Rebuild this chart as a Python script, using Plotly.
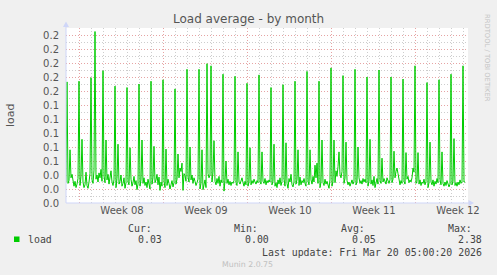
import plotly.graph_objects as go
import pandas as pd

# ---------------- data ----------------
start_time = "2026-02-14 22:00"   # first 2-hour sample
sample_step = "2h"

load_values = [
    0.030,
    # Feb 15
    0.173, 0.028, 0.032, 0.076, 0.036, 0.041, 0.029, 0.024, 0.031, 0.022, 0.027, 0.035,
    # Feb 16
    0.174, 0.025, 0.038, 0.091, 0.030, 0.022, 0.026, 0.044, 0.025, 0.021, 0.030, 0.042,
    # Feb 17
    0.179, 0.033, 0.028, 0.047, 0.245, 0.034, 0.040, 0.030, 0.043, 0.036, 0.048, 0.031,
    # Feb 18
    0.189, 0.038, 0.029, 0.090, 0.033, 0.041, 0.027, 0.036, 0.046, 0.030, 0.025, 0.033,
    # Feb 19
    0.167, 0.022, 0.035, 0.084, 0.027, 0.031, 0.040, 0.024, 0.028, 0.036, 0.021, 0.029,
    # Feb 20
    0.165, 0.030, 0.026, 0.079, 0.034, 0.024, 0.029, 0.038, 0.026, 0.032, 0.019, 0.027,
    # Feb 21
    0.170, 0.024, 0.033, 0.090, 0.028, 0.036, 0.025, 0.030, 0.022, 0.034, 0.027, 0.020,
    # Feb 22
    0.174, 0.027, 0.036, 0.081, 0.029, 0.033, 0.041, 0.026, 0.037, 0.018, 0.030, 0.024,
    # Feb 23
    0.176, 0.031, 0.022, 0.077, 0.025, 0.034, 0.028, 0.020, 0.026, 0.032, 0.023, 0.029,
    # Feb 24
    0.163, 0.027, 0.034, 0.070, 0.036, 0.050, 0.045, 0.057, 0.018, 0.042, 0.039, 0.031,
    # Feb 25
    0.191, 0.037, 0.030, 0.080, 0.033, 0.040, 0.028, 0.036, 0.031, 0.025, 0.029, 0.034,
    # Feb 26
    0.191, 0.020, 0.028, 0.076, 0.019, 0.025, 0.033, 0.022, 0.199, 0.042, 0.036, 0.040,
    # Feb 27
    0.196, 0.030, 0.044, 0.089, 0.031, 0.026, 0.035, 0.028, 0.038, 0.024, 0.033, 0.029,
    # Feb 28
    0.184, 0.017, 0.032, 0.060, 0.028, 0.034, 0.026, 0.031, 0.025, 0.030, 0.028, 0.032,
    # Mar 1
    0.181, 0.029, 0.025, 0.073, 0.030, 0.027, 0.033, 0.036, 0.029, 0.024, 0.031, 0.026,
    # Mar 2
    0.171, 0.024, 0.030, 0.079, 0.026, 0.032, 0.028, 0.034, 0.030, 0.027, 0.032, 0.029,
    # Mar 3
    0.183, 0.030, 0.027, 0.073, 0.031, 0.028, 0.035, 0.026, 0.032, 0.029, 0.033, 0.030,
    # Mar 4
    0.165, 0.026, 0.031, 0.084, 0.024, 0.029, 0.022, 0.033, 0.027, 0.036, 0.025, 0.031,
    # Mar 5
    0.169, 0.034, 0.024, 0.086, 0.028, 0.021, 0.035, 0.030, 0.041, 0.026, 0.023, 0.030,
    # Mar 6
    0.174, 0.027, 0.033, 0.076, 0.025, 0.037, 0.026, 0.032, 0.029, 0.035, 0.028, 0.024,
    # Mar 7
    0.188, 0.031, 0.026, 0.076, 0.033, 0.027, 0.038, 0.030, 0.054, 0.036, 0.057, 0.028,
    # Mar 8
    0.174, 0.022, 0.030, 0.090, 0.029, 0.025, 0.034, 0.027, 0.031, 0.026, 0.021, 0.033,
    # Mar 9
    0.193, 0.024, 0.031, 0.090, 0.029, 0.046, 0.038, 0.052, 0.073, 0.041, 0.036, 0.045,
    # Mar 10
    0.182, 0.028, 0.035, 0.087, 0.032, 0.026, 0.030, 0.024, 0.029, 0.033, 0.027, 0.031,
    # Mar 11
    0.191, 0.026, 0.030, 0.080, 0.036, 0.028, 0.032, 0.027, 0.035, 0.030, 0.034, 0.029,
    # Mar 12
    0.180, 0.024, 0.031, 0.091, 0.027, 0.033, 0.025, 0.038, 0.022, 0.029, 0.035, 0.027,
    # Mar 13
    0.190, 0.032, 0.028, 0.064, 0.030, 0.035, 0.029, 0.027, 0.036, 0.031, 0.028, 0.033,
    # Mar 14
    0.180, 0.029, 0.034, 0.074, 0.036, 0.045, 0.050, 0.042, 0.030, 0.026, 0.032, 0.028,
    # Mar 15
    0.177, 0.031, 0.027, 0.072, 0.034, 0.038, 0.029, 0.033, 0.030, 0.036, 0.050, 0.044,
    # Mar 16
    0.196, 0.028, 0.031, 0.072, 0.027, 0.033, 0.025, 0.030, 0.028, 0.034, 0.026, 0.031,
    # Mar 17
    0.172, 0.022, 0.029, 0.087, 0.030, 0.026, 0.033, 0.024, 0.031, 0.027, 0.035, 0.029,
    # Mar 18
    0.176, 0.033, 0.026, 0.073, 0.028, 0.024, 0.030, 0.025, 0.032, 0.028, 0.023, 0.027,
    # Mar 19
    0.184, 0.026, 0.031, 0.092, 0.025, 0.029, 0.024, 0.030, 0.026, 0.033, 0.028, 0.030,
    # Mar 20
    0.196, 0.030, 0.030,
]
times = pd.date_range(start_time, periods=len(load_values), freq=sample_step)

x_range = ["2026-02-14 22:00", "2026-03-20 10:00"]
y_range = [0, 0.25]

week_label_pos = ["2026-02-19 14:00", "2026-02-26 14:00", "2026-03-05 14:00",
                  "2026-03-12 14:00", "2026-03-19 14:00"]
week_labels = ["Week 08", "Week 09", "Week 10", "Week 11", "Week 12"]
week_starts = ["2026-02-16", "2026-02-23", "2026-03-02", "2026-03-09", "2026-03-16"]
day_starts = [d.strftime("%Y-%m-%d") for d in pd.date_range("2026-02-15", "2026-03-20", freq="D")]

stat_names = ["Cur:", "Min:", "Avg:", "Max:"]
stat_values = ["0.03", "0.00", "0.05", "2.38"]
series_name = "load"
last_update = "Last update: Fri Mar 20 05:00:20 2026"

# ---------------- layout geometry (pixels) ----------------
W, H = 497, 275
L, R, T, B = 66, 468, 28, 203


def fx(px):
    return (px - L) / (R - L)


def fy(py):
    return (B - py) / (B - T)


GREEN = "#00cc00"
AXIS = "#cfd6f8"
MGRID = "#e6a3a3"
GRID = "#cdcdcd"
FONT = "DejaVu Sans"
MONO = "DejaVu Sans Mono"
TXT = "#555555"
DOT = "1px,2px"

fig = go.Figure()
fig.add_trace(go.Scatter(x=times, y=load_values, mode="lines",
                         line=dict(color=GREEN, width=1), showlegend=False,
                         hoverinfo="skip"))

fig.update_layout(
    width=W, height=H,
    margin=dict(l=L, r=W - R, t=T, b=H - B, pad=0),
    paper_bgcolor="#f0f0f0", plot_bgcolor="#ffffff",
    showlegend=False,
    xaxis=dict(type="date", range=x_range, tickmode="array",
               tickvals=week_label_pos, ticktext=week_labels,
               showgrid=False, zeroline=False, showline=False, ticks="",
               tickfont=dict(family=FONT, size=10, color=TXT)),
    xaxis2=dict(type="date", range=x_range, overlaying="x", tickmode="array",
                tickvals=week_starts, showticklabels=False, ticks="",
                showgrid=True, gridcolor=MGRID, griddash=DOT, gridwidth=1,
                zeroline=False, showline=False,
                minor=dict(tickmode="array", tickvals=day_starts, showgrid=True,
                           gridcolor=GRID, griddash=DOT, gridwidth=1, ticks="")),
    yaxis=dict(range=y_range, tick0=0, dtick=0.02, tickformat=".1f",
               showgrid=True, gridcolor=MGRID, griddash=DOT, gridwidth=1,
               zeroline=False, showline=False, ticks="",
               ticklabelstandoff=6,
               tickfont=dict(family=FONT, size=10, color=TXT),
               minor=dict(tick0=0, dtick=0.01, showgrid=True, gridcolor=GRID,
                          griddash=DOT, gridwidth=1, ticks="")),
)

# invisible trace so xaxis2 gets drawn
fig.add_trace(go.Scatter(x=[times[0]], y=[None], xaxis="x2", yaxis="y",
                         showlegend=False, hoverinfo="skip"))

shapes = []
# axis lines + arrows
shapes.append(dict(type="line", xref="paper", yref="paper",
                   x0=fx(L), x1=fx(471), y0=fy(B), y1=fy(B),
                   line=dict(color=AXIS, width=1), layer="above"))
shapes.append(dict(type="line", xref="paper", yref="paper",
                   x0=fx(L), x1=fx(L), y0=fy(B), y1=fy(24),
                   line=dict(color=AXIS, width=1), layer="above"))
shapes.append(dict(type="path", xref="paper", yref="paper",
                   path=f"M {fx(468.5)} {fy(200)} L {fx(474)} {fy(203)} L {fx(468.5)} {fy(206)} Z",
                   fillcolor=AXIS, line=dict(color=AXIS, width=0), layer="above"))
shapes.append(dict(type="path", xref="paper", yref="paper",
                   path=f"M {fx(63)} {fy(27)} L {fx(66)} {fy(21.5)} L {fx(69)} {fy(27)} Z",
                   fillcolor=AXIS, line=dict(color=AXIS, width=0), layer="above"))
# legend colour square
shapes.append(dict(type="rect", xref="paper", yref="paper",
                   x0=fx(14), x1=fx(19.5), y0=fy(236.5), y1=fy(242),
                   fillcolor=GREEN, line=dict(width=0)))
fig.update_layout(shapes=shapes)

ann = []


def add_text(text, px, py, size, family=FONT, color=TXT, xanchor="left", angle=0):
    ann.append(dict(text=text, x=fx(px), y=fy(py), xref="paper", yref="paper",
                    showarrow=False, xanchor=xanchor, yanchor="middle",
                    textangle=angle, borderpad=0,
                    font=dict(family=family, size=size, color=color)))


add_text("Load average - by month", 248, 19, 12, xanchor="center")
add_text("load", 10, 115, 11, angle=-90, xanchor="center")
add_text("RRDTOOL / TOBI OETIKER", 487, 58, 6.8, color="#c4c4c4", angle=90, xanchor="center")

stat_left = [127, 233, 340, 447]
stat_right = [163, 270, 377, 483]
for name, lx in zip(stat_names, stat_left):
    add_text(name, lx, 228, 9.9, family=MONO, color="#444444")
add_text(series_name, 27, 239, 9.9, family=MONO, color="#444444")
for val, rx in zip(stat_values, stat_right):
    add_text(val, rx, 239, 9.9, family=MONO, color="#444444", xanchor="right")
add_text(last_update, 483, 252, 9.9, family=MONO, color="#444444", xanchor="right")
add_text("Munin 2.0.75", 247.5, 264, 7.8, color="#c0c0c0", xanchor="center")

fig.update_layout(annotations=ann)

fig.write_html("out.html")
